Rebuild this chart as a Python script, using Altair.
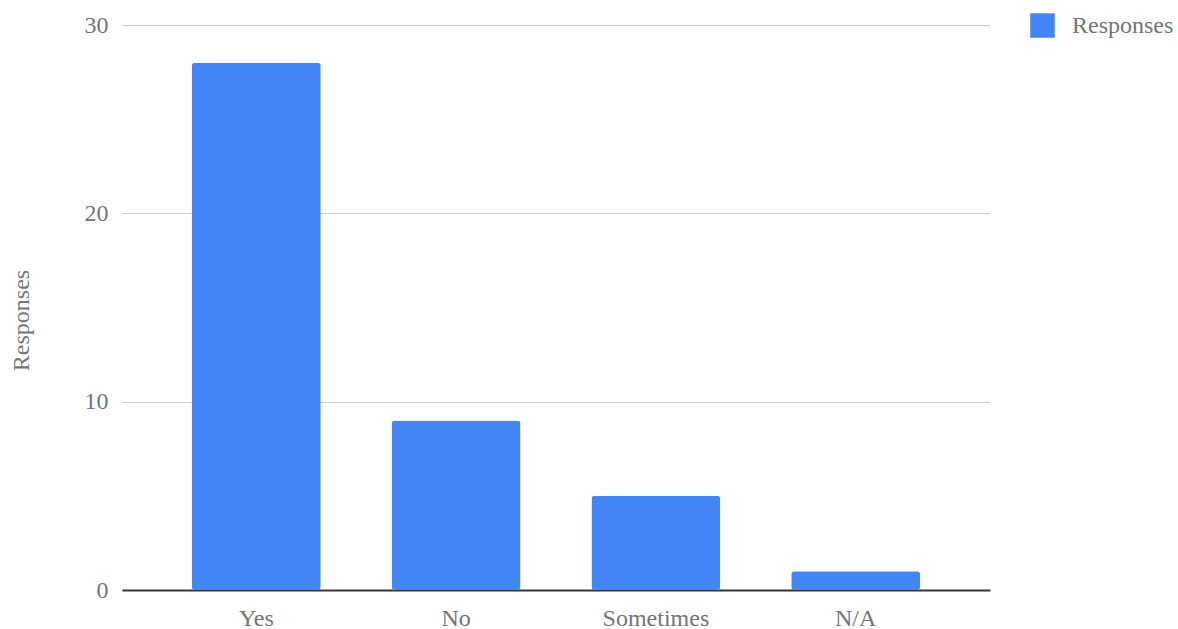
import altair as alt
import pandas as pd

categories = ["Yes", "No", "Sometimes", "N/A"]
responses = [28, 9, 5, 1]
series_name = "Responses"

df = pd.DataFrame({
    "answer": categories,
    "count": responses,
    "series": [series_name] * len(categories),
})

FONT = "Liberation Serif"
TXT = "#757575"

chart = alt.Chart(df).mark_bar(cornerRadius=3).encode(
    x=alt.X(
        "answer:N",
        sort=categories,
        scale=alt.Scale(paddingInner=0.355, paddingOuter=0.35),
        axis=alt.Axis(
            title=None, labelAngle=0, ticks=False, grid=False,
            domain=True, domainColor="#333333", domainWidth=2,
            labelFont=FONT, labelFontSize=24, labelColor=TXT, labelPadding=16,
        ),
    ),
    y=alt.Y(
        "count:Q",
        scale=alt.Scale(domain=[0, 30]),
        axis=alt.Axis(
            values=[0, 10, 20, 30], title="Responses", ticks=False, domain=False,
            grid=True, gridColor="#cccccc", gridWidth=1,
            labelFont=FONT, labelFontSize=24, labelColor=TXT, labelPadding=14,
            titleFont=FONT, titleFontSize=24, titleColor=TXT, titleFontWeight="normal",
            titleAngle=-90, titleX=-101, titleY=295, titleAlign="center", titleBaseline="middle",
        ),
    ),
    color=alt.Color(
        "series:N",
        scale=alt.Scale(range=["#4285F4"]),
        legend=alt.Legend(
            title=None, orient="none", legendX=908, legendY=-12,
            symbolType="square", symbolSize=600, symbolStrokeWidth=0,
            labelFont=FONT, labelFontSize=24, labelColor=TXT, labelOffset=17,
        ),
    ),
).properties(
    width=868,
    height=565,
    autosize=alt.AutoSizeParams(type="none"),
    padding={"left": 122, "top": 25, "right": 188, "bottom": 39},
    background="white",
).configure_view(stroke=None, strokeWidth=0)

chart.save("out.html", embed_options={"renderer": "svg", "actions": False})
